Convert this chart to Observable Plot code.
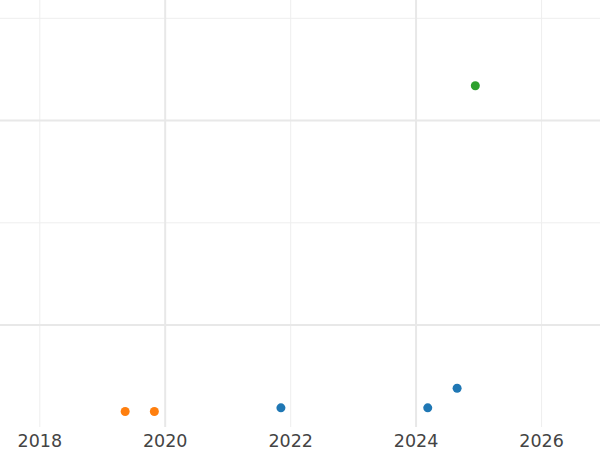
<!DOCTYPE html>
<html>
<head>
<meta charset="utf-8">
<script src="https://cdn.jsdelivr.net/npm/d3@7"></script>
<script src="https://cdn.jsdelivr.net/npm/@observablehq/plot@0.6"></script>
<style>
  html, body { margin: 0; padding: 0; background: #fff; }
</style>
</head>
<body>
<div id="chart"></div>
<script>
// Data
const dates  = ["2019-05-13", "2019-10-30", "2021-11-05", "2024-03-09", "2024-08-27", "2024-12-11"];
const values = [0.577, 0.577, 0.595, 0.595, 0.691, 2.170];
const groups = ["B", "B", "A", "A", "A", "C"];

const groupNames  = ["A", "B", "C"];
const groupColors = ["#1f77b4", "#ff7f0e", "#2ca02c"];

const tickYears      = ["2018-01-01", "2020-01-01", "2022-01-01", "2024-01-01", "2026-01-01"];
const majorGridYears = ["2020-01-01", "2024-01-01"];
const minorGridYears = ["2018-01-01", "2022-01-01", "2026-01-01"];
const majorGridY = [1, 2];
const minorGridY = [1.5, 2.5];

const xDomain = ["2017-05-17", "2026-12-10"];
const yDomain = [0.499, 2.587];

const parse = d3.utcParse("%Y-%m-%d");
const data = dates.map((d, i) => ({date: parse(d), value: values[i], group: groups[i]}));

const chart = Plot.plot({
  width: 600,
  height: 450,
  marginTop: 0,
  marginLeft: 0,
  marginRight: 0,
  marginBottom: 23,
  style: {fontFamily: "DejaVu Sans", fontSize: "17.5px", color: "#444", background: "#fff"},
  x: {type: "utc", domain: xDomain.map(parse)},
  y: {domain: yDomain, axis: null},
  color: {domain: groupNames, range: groupColors},
  marks: [
    Plot.ruleX(minorGridYears.map(parse), {stroke: "#eeeeee", strokeWidth: 1}),
    Plot.ruleY(minorGridY, {stroke: "#eeeeee", strokeWidth: 1}),
    Plot.ruleX(majorGridYears.map(parse), {stroke: "#e8e8e8", strokeWidth: 2}),
    Plot.ruleY(majorGridY, {stroke: "#e8e8e8", strokeWidth: 2}),
    Plot.axisX({ticks: tickYears.map(parse), tickFormat: d3.utcFormat("%Y"), tickSize: 0, tickPadding: 7, fill: "#444", fontSize: 17.5, label: null}),
    Plot.dot(data, {x: "date", y: "value", fill: "group", r: 4.5, stroke: null})
  ]
});
document.getElementById("chart").appendChild(chart);
</script>
</body>
</html>
